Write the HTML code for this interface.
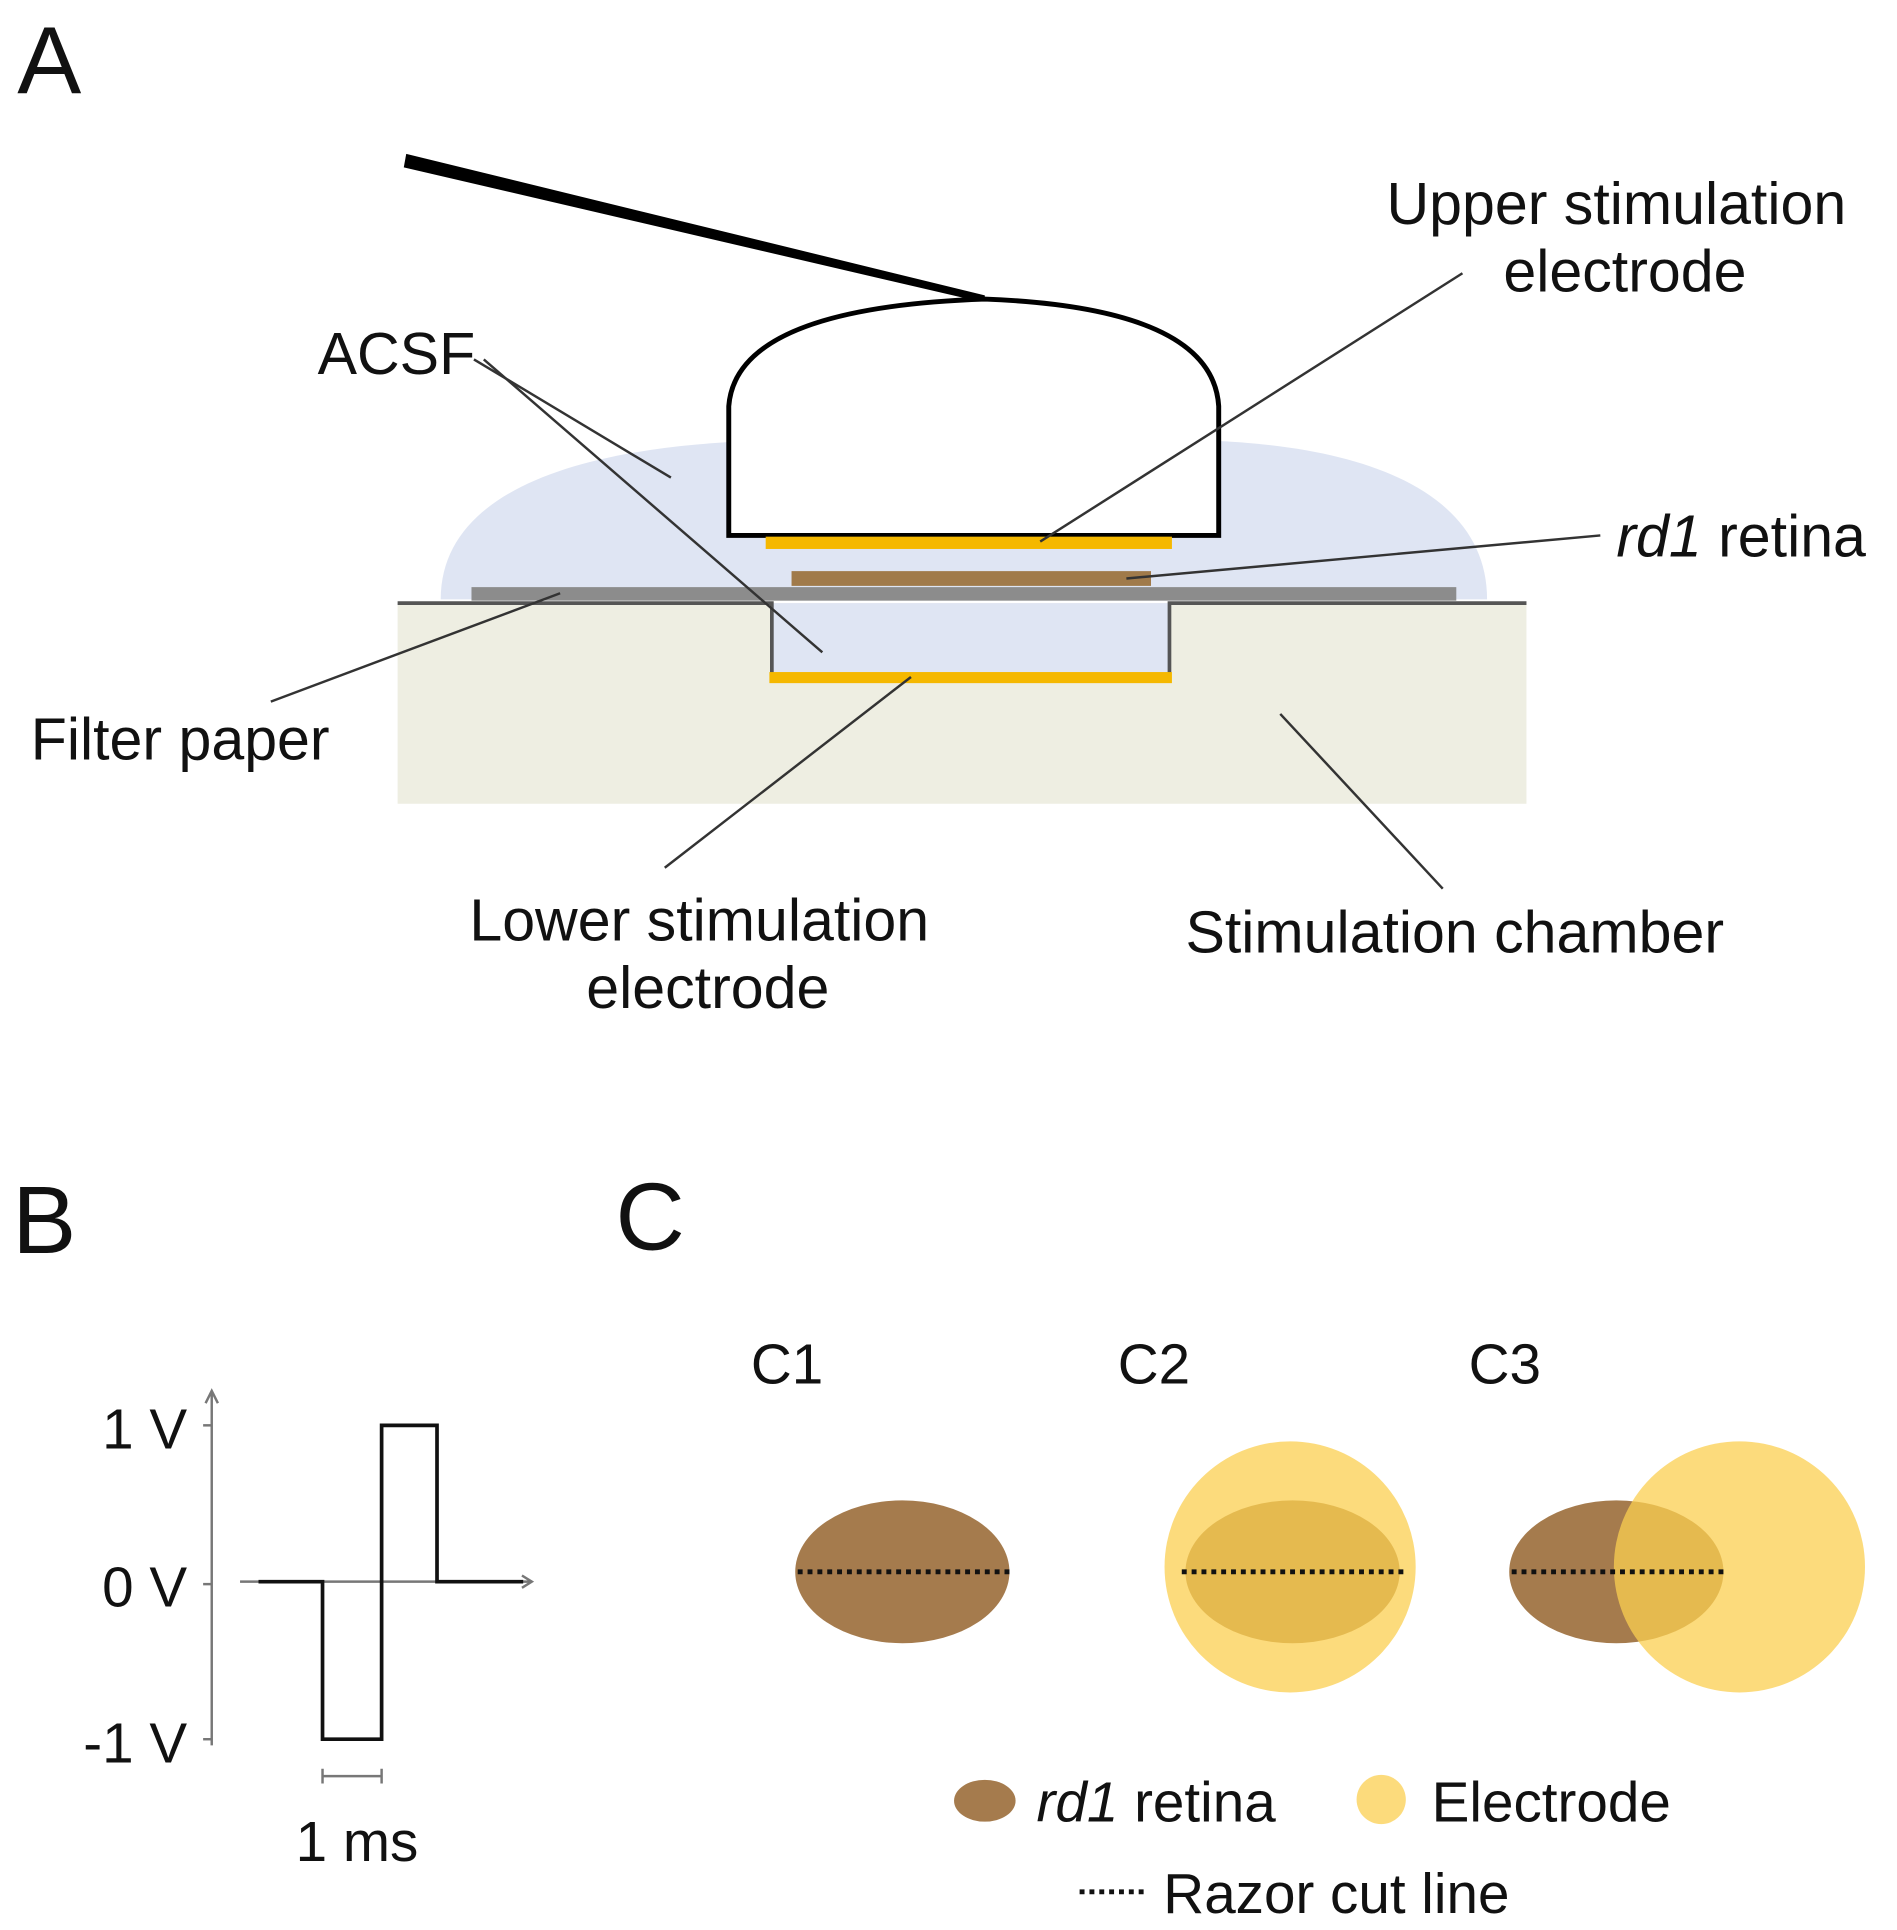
<!DOCTYPE html>
<html><head><meta charset="utf-8"><style>html,body{margin:0;padding:0;background:#fff}svg{display:block}text{font-family:"Liberation Sans",sans-serif;fill:#111}</style></head>
<body>
<svg width="1897" height="1930" viewBox="0 0 1541 1568" preserveAspectRatio="none" xmlns="http://www.w3.org/2000/svg">
<rect width="1553" height="1580" fill="#fff"/>
<text x="14" y="76" font-size="78">A</text>
<path d="M358,487 C358,395 480,362 620,358 L980,358 C1110,362 1208,400 1208,487 Z" fill="#dfe5f3"/>
<rect x="323" y="490" width="917" height="163" fill="#eeeee2"/>
<rect x="627" y="490" width="323" height="60" fill="#dfe5f3"/>
<rect x="383" y="477" width="800" height="11" fill="#8c8c8c"/>
<path d="M323,490 L627,490 L627,550 L950,550 L950,490 L1240,490" fill="none" stroke="#555" stroke-width="3"/>
<rect x="643" y="464" width="292" height="12" fill="#a07a4a"/>
<rect x="625" y="546" width="327" height="9" fill="#f5b800"/>
<path d="M330,125 L800,240 L800,246 L328,136 Z" fill="#000"/>
<path d="M592,435 L592,330 Q598,250 800,243 Q985,250 990,330 L990,435 Z" fill="#fff" stroke="#000" stroke-width="4"/>
<rect x="622" y="436" width="330" height="10" fill="#f5b800"/>
<g stroke="#333" stroke-width="2" fill="none">
<line x1="1188" y1="222" x2="845" y2="440"/>
<line x1="1300" y1="435" x2="915" y2="470"/>
<line x1="385" y1="292" x2="545" y2="388"/>
<line x1="393" y1="292" x2="668" y2="530"/>
<line x1="220" y1="570" x2="455" y2="482"/>
<line x1="540" y1="705" x2="740" y2="550"/>
<line x1="1172" y1="722" x2="1040" y2="580"/>
</g>
<g font-size="48">
<text x="1313" y="182" text-anchor="middle">Upper stimulation</text>
<text x="1320" y="237" text-anchor="middle">electrode</text>
<text x="258" y="304">ACSF</text>
<text x="1313" y="452"><tspan font-style="italic">rd1</tspan> retina</text>
<text x="25" y="617">Filter paper</text>
<text x="568" y="764" text-anchor="middle">Lower stimulation</text>
<text x="575" y="819" text-anchor="middle">electrode</text>
<text x="963" y="774">Stimulation chamber</text>
</g>
<text x="10" y="1018" font-size="78">B</text>
<g stroke="#777" stroke-width="2" fill="none">
<line x1="172" y1="1130" x2="172" y2="1418"/>
<path d="M167,1140 L172,1130 L177,1140"/>
<line x1="165" y1="1158" x2="172" y2="1158"/>
<line x1="165" y1="1287" x2="172" y2="1287"/>
<line x1="165" y1="1413" x2="172" y2="1413"/>
<line x1="195" y1="1285" x2="432" y2="1285"/>
<path d="M424,1280 L432,1285 L424,1290"/>
<path d="M262,1437 L262,1449 M262,1443 L310,1443 M310,1437 L310,1449"/>
</g>
<path d="M210,1285 L262,1285 L262,1413 L310,1413 L310,1158 L355,1158 L355,1285 L425,1285" fill="none" stroke="#111" stroke-width="3"/>
<g font-size="46">
<text x="152" y="1177" text-anchor="end">1 V</text>
<text x="152" y="1305" text-anchor="end">0 V</text>
<text x="152" y="1432" text-anchor="end">-1 V</text>
<text x="290" y="1512" text-anchor="middle">1 ms</text>
</g>
<text x="500" y="1015" font-size="78">C</text>
<g font-size="46">
<text x="610" y="1124">C1</text>
<text x="908" y="1124">C2</text>
<text x="1193" y="1124">C3</text>
</g>
<ellipse cx="733" cy="1277" rx="87" ry="58" fill="#a57b4d"/>
<ellipse cx="1050" cy="1277" rx="87" ry="58" fill="#a57b4d"/>
<circle cx="1048" cy="1273" r="102" fill="#fbcf50" fill-opacity="0.75"/>
<ellipse cx="1313" cy="1277" rx="87" ry="58" fill="#a57b4d"/>
<circle cx="1413" cy="1273" r="102" fill="#fbcf50" fill-opacity="0.75"/>
<g stroke="#111" stroke-width="4" stroke-dasharray="4 4">
<line x1="648" y1="1277" x2="820" y2="1277"/>
<line x1="960" y1="1277" x2="1140" y2="1277"/>
<line x1="1228" y1="1277" x2="1400" y2="1277"/>
<line x1="877" y1="1537" x2="930" y2="1537"/>
</g>
<ellipse cx="800" cy="1463" rx="25" ry="17" fill="#a57b4d"/>
<circle cx="1122" cy="1462" r="20" fill="#fbcf50" fill-opacity="0.75"/>
<g font-size="46">
<text x="842" y="1480"><tspan font-style="italic">rd1</tspan> retina</text>
<text x="1163" y="1480">Electrode</text>
<text x="945" y="1554">Razor cut line</text>
</g>
</svg>
</body></html>
